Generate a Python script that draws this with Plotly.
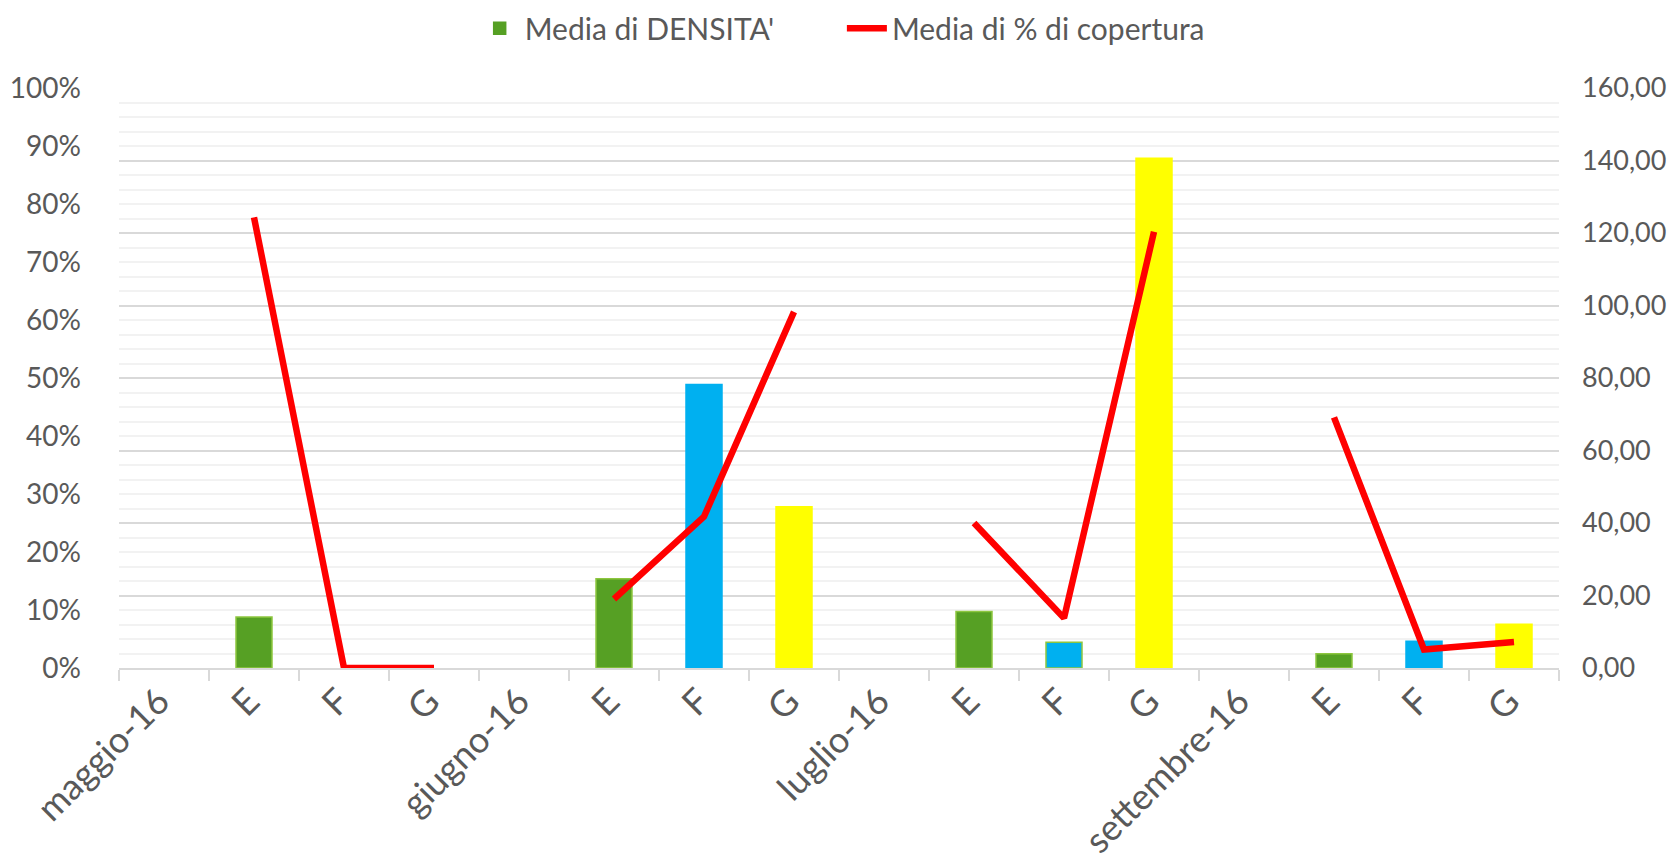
import plotly.graph_objects as go

CATEGORIES = [
    "maggio-16", "E", "F", "G",
    "giugno-16", "E", "F", "G",
    "luglio-16", "E", "F", "G",
    "settembre-16", "E", "F", "G",
]
DENSITA = [
    None, 14.1, None, None,
    None, 24.6, 78.2, 44.5,
    None, 15.6, 7.1, 140.6,
    None, 3.9, 7.4, 12.1,
]
COPERTURA = [
    None, 0.777, 0.0, 0.0,
    None, 0.119, 0.261, 0.614,
    None, 0.250, 0.086, 0.752,
    None, 0.432, 0.032, 0.045,
]

GREEN = "#56A024"
BLUE = "#00B0F0"
YELLOW = "#FFFF00"
TEXT = "#595959"
FONT = "Lato, 'Open Sans', sans-serif"

fill = {"E": GREEN, "F": BLUE, "G": YELLOW}
bar_colors = [fill.get(c, GREEN) for c in CATEGORIES]
edge_colors = [("#8DC63F" if c == "E" else fill.get(c, GREEN)) for c in CATEGORIES]
edge_colors[10] = "#8DC63F"

x = list(range(len(CATEGORIES)))

fig = go.Figure()
fig.add_trace(go.Bar(
    x=x, y=DENSITA, name="Media di DENSITA'",
    marker=dict(color=bar_colors, line=dict(color=edge_colors, width=1.5)),
    width=0.4, yaxis="y", legend="legend",
))
fig.add_trace(go.Scatter(
    x=x, y=COPERTURA, name="Media di % di copertura",
    mode="lines", line=dict(color="#FF0000", width=6.5),
    connectgaps=False, yaxis="y2", legend="legend2",
))

# due legende separate per riprodurre la spaziatura dell'originale
legend_style = dict(
    orientation="h", y=1.103, yanchor="middle", xanchor="left",
    font=dict(size=30, color=TEXT), itemwidth=40,
)

fig.update_layout(
    width=1680, height=868,
    margin=dict(l=111, r=129, t=80, b=208, autoexpand=False),
    paper_bgcolor="white", plot_bgcolor="white",
    font=dict(family=FONT, size=28, color=TEXT),
    separators=",.",
    showlegend=True,
    legend=dict(x=0.247, **legend_style),
    legend2=dict(x=0.502, **legend_style),
    xaxis=dict(
        range=[-0.5, 15.5], tickmode="array", tickvals=x, ticktext=CATEGORIES,
        tickangle=-45, ticks="", showgrid=False, zeroline=False,
        showline=True, linecolor="#D9D9D9", linewidth=1.5,
        ticklabelstandoff=-4, ticklabelshift=-5, tickfont=dict(size=36),
        minor=dict(tick0=-0.5, dtick=1, ticks="outside", ticklen=11,
                   tickcolor="#D9D9D9", tickwidth=1.5, showgrid=False),
    ),
    yaxis=dict(
        side="right", range=[0, 160], dtick=20, tickformat=".2f",
        showgrid=True, gridcolor="#D9D9D9", gridwidth=1.5,
        zeroline=False, showline=False, ticks="", ticklabelstandoff=22,
        tickfont=dict(size=27),
        minor=dict(dtick=4, showgrid=True, gridcolor="#F2F2F2", gridwidth=1.5),
    ),
    yaxis2=dict(
        side="left", overlaying="y", range=[0, 1], dtick=0.1, tickformat=".0%",
        showgrid=False, zeroline=False, showline=False, ticks="",
        ticklabelstandoff=37,
    ),
)

fig.write_html("out.html")
